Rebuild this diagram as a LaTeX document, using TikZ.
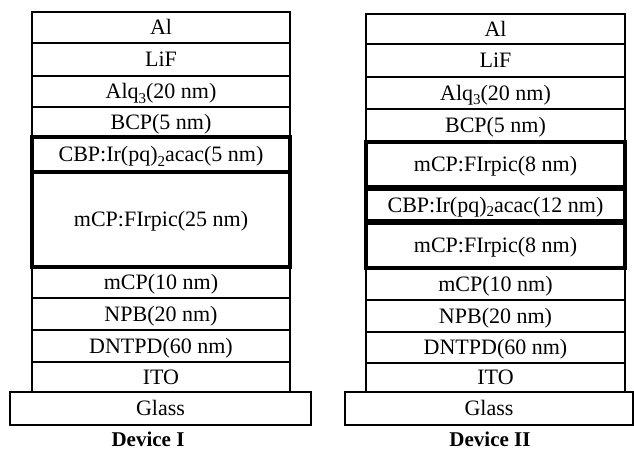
\documentclass[tikz,border=0pt]{standalone}
\usepackage{fontspec}
\setmainfont{Liberation Serif}
\newcommand\lowsub[1]{\raisebox{-4.5pt}{\fontsize{15}{15}\selectfont #1}}
\begin{document}
\begin{tikzpicture}[x=1pt,y=-1pt,
  lay/.style={draw, line width=1.6pt, rectangle, inner sep=0pt, outer sep=0pt,
    font=\fontsize{22}{26}\selectfont, text height=14.5pt, text depth=0pt},
  emis/.style={lay, line width=4.5pt},
  devlabel/.style={font=\fontsize{21}{24}\selectfont\bfseries, inner sep=0pt, anchor=base}]
\useasboundingbox (0,0) rectangle (634,451);
% ---------- Device I ----------
\node[lay, minimum width=258, minimum height=31] (aAl)   at (161,27.5)  {Al};
\node[lay, minimum width=258, minimum height=33] (aLiF)  at (161,59.5)  {LiF};
\node[lay, minimum width=258, minimum height=31] (aAlq)  at (161,91.5)  {Alq\lowsub{3}(20 nm)};
\node[lay, minimum width=258, minimum height=30] (aBCP)  at (161,122)   {BCP(5 nm)};
\node[lay, minimum width=258, minimum height=31] (amCP)  at (161,282.5) {mCP(10 nm)};
\node[lay, minimum width=258, minimum height=32] (aNPB)  at (161,314)   {NPB(20 nm)};
\node[lay, minimum width=258, minimum height=32] (aDNT)  at (161,346)   {DNTPD(60 nm)};
\node[lay, minimum width=258, minimum height=30] (aITO)  at (161,377)   {ITO};
\node[emis, minimum width=258, minimum height=35] (aCBP) at (161,154.5) {CBP:Ir(pq)\lowsub{2}acac(5 nm)};
\node[emis, minimum width=258, minimum height=95] (aFIr) at (161,219.5) {mCP:FIrpic(25 nm)};
\node[lay, minimum width=301, minimum height=33] (aGl)   at (160.5,408.5) {Glass};
\node[devlabel] (aLab) at (148,446.5) {Device I};
% ---------- Device II ----------
\node[lay, minimum width=259, minimum height=30] (bAl)   at (495.5,29)    {Al};
\node[lay, minimum width=259, minimum height=33] (bLiF)  at (495.5,60.5)  {LiF};
\node[lay, minimum width=259, minimum height=32] (bAlq)  at (495.5,93)    {Alq\lowsub{3}(20 nm)};
\node[lay, minimum width=259, minimum height=33] (bBCP)  at (495.5,125.5) {BCP(5 nm)};
\node[lay, minimum width=259, minimum height=32] (bmCP)  at (495.5,284)   {mCP(10 nm)};
\node[lay, minimum width=259, minimum height=32] (bNPB)  at (495.5,316)   {NPB(20 nm)};
\node[lay, minimum width=259, minimum height=31] (bDNT)  at (495.5,347.5) {DNTPD(60 nm)};
\node[lay, minimum width=259, minimum height=29] (bITO)  at (495.5,377.5) {ITO};
\node[emis, minimum width=259, minimum height=45] (bFIr1) at (495.5,164.5) {mCP:FIrpic(8 nm)};
\node[emis, minimum width=259, minimum height=32] (bCBP)  at (495.5,205)   {CBP:Ir(pq)\lowsub{2}acac(12 nm)};
\node[emis, minimum width=259, minimum height=45] (bFIr2) at (495.5,245.5) {mCP:FIrpic(8 nm)};
\node[lay, minimum width=288, minimum height=33] (bGl)   at (489,408.5)   {Glass};
\node[devlabel] (bLab) at (490,446.5) {Device II};
\end{tikzpicture}
\end{document}
